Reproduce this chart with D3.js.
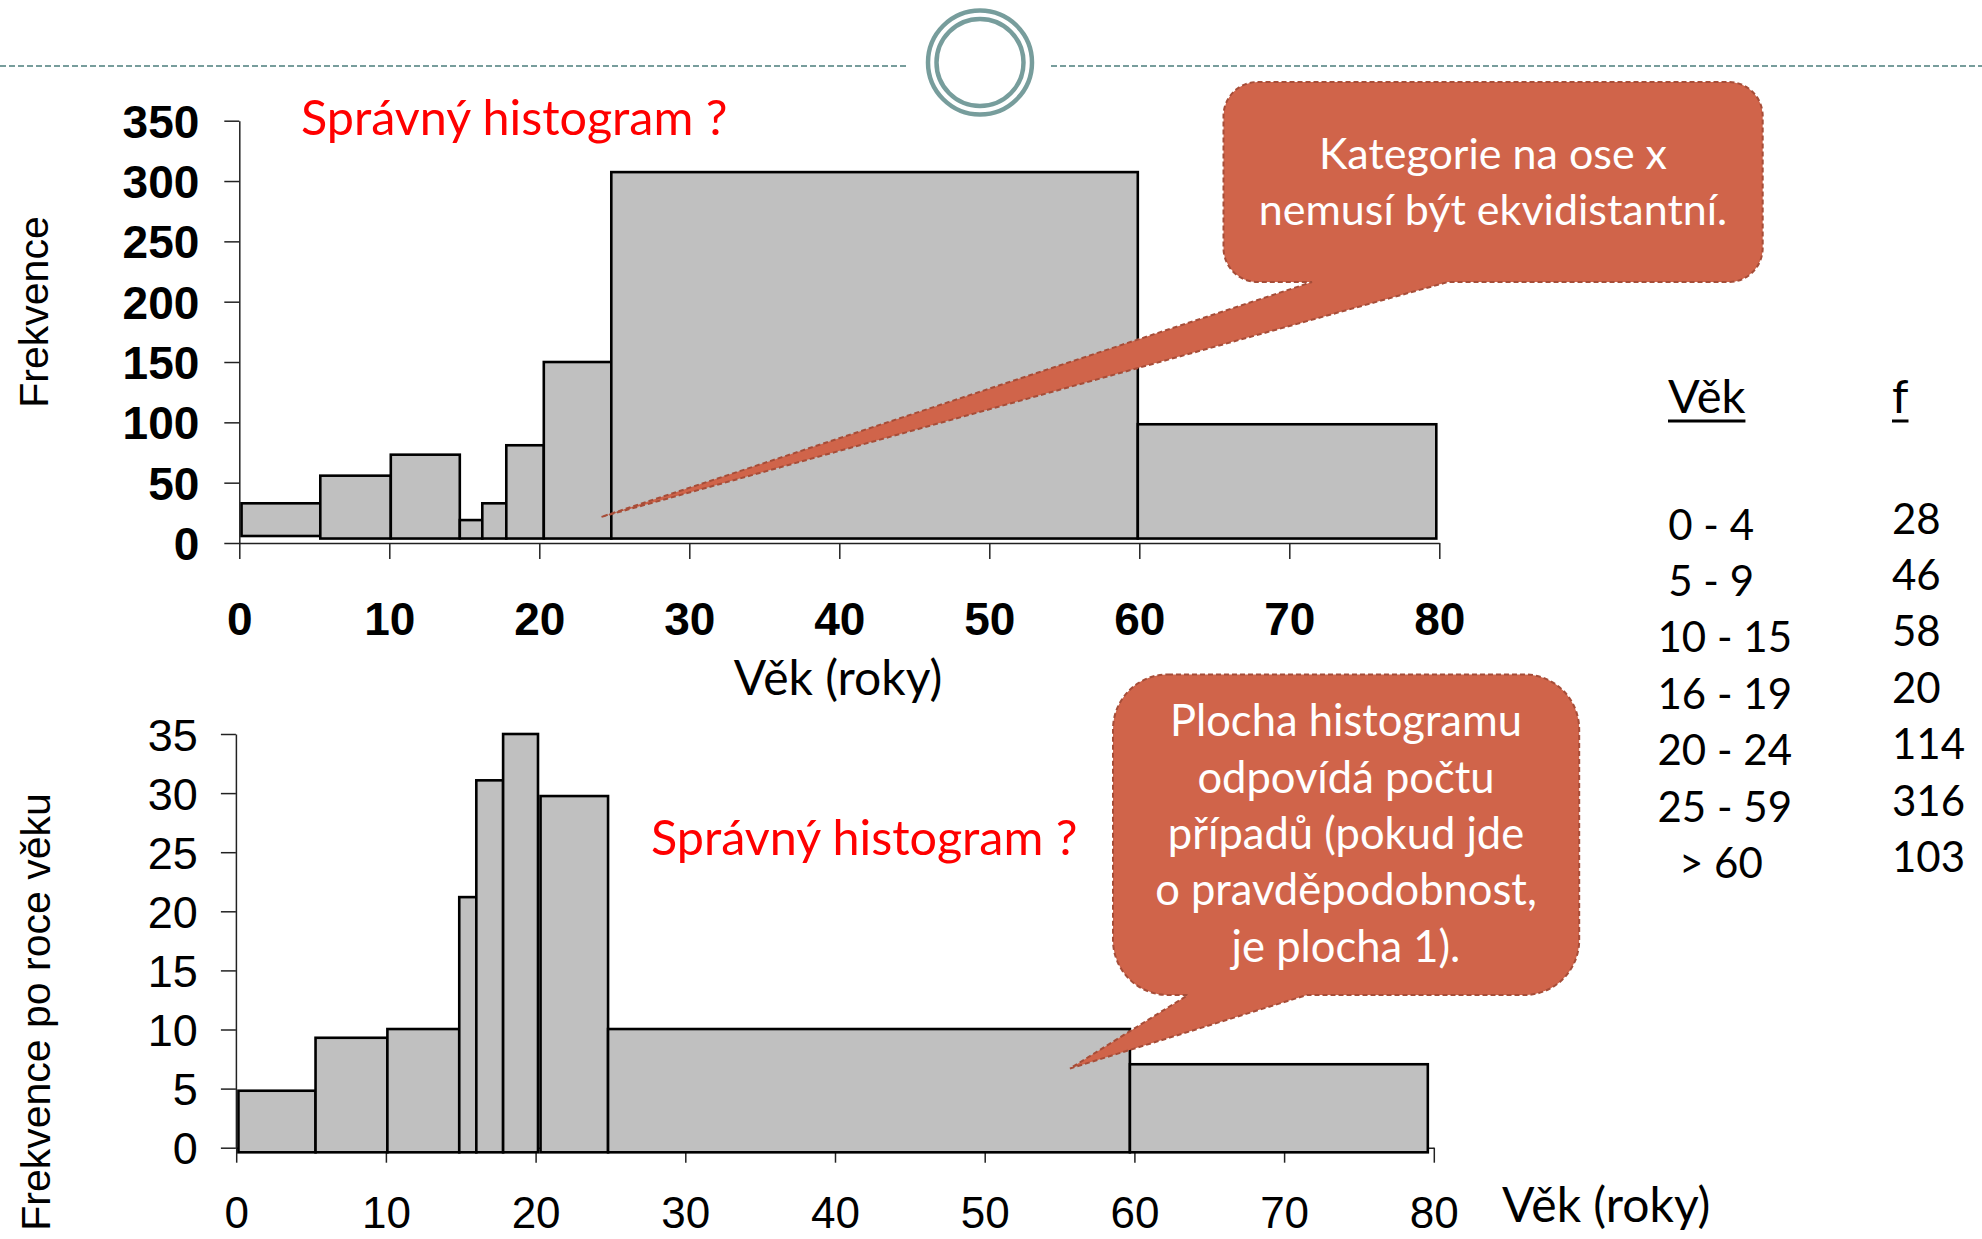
<!DOCTYPE html>
<html>
<head>
<meta charset="utf-8">
<script src="https://cdnjs.cloudflare.com/ajax/libs/d3/7.8.5/d3.min.js"></script>
<style>
  body { margin: 0; background: #fff; }
  svg { display: block; }
  .axis path, .axis line { stroke: #222; stroke-width: 1.5; }
  .axis text { fill: #000; font-family: 'Liberation Sans', Arial, sans-serif; }
  .cal { font-family: Lato, 'Open Sans', sans-serif; }
</style>
</head>
<body>
<svg></svg>
<script>
const width = 1982;
const height = 1239;
const svg = d3.select('svg').attr('width', width).attr('height', height);

//Data
const xTicks = [0, 10, 20, 30, 40, 50, 60, 70, 80];
const topYTicks = [0, 50, 100, 150, 200, 250, 300, 350];
const botYTicks = [0, 5, 10, 15, 20, 25, 30, 35];

// upper histogram (counts per class, drawn with unequal widths)
const topFrom = [0.15, 5.4, 10.1, 14.7, 16.2, 17.8, 20.3, 24.8, 59.9];
const topTo   = [5.4, 10.1, 14.7, 16.2, 17.8, 20.3, 24.8, 59.9, 79.8];
const topFreq = [32.9, 55.8, 73.2, 19, 32.9, 81, 150, 307.4, 98.4];
const topBase = [5.8, 3.7, 3.7, 3.7, 3.7, 3.7, 3.7, 3.7, 3.7];

// lower histogram (frequency per year of age)
const botFrom = [0.15, 5.3, 10.1, 14.9, 16.04, 17.83, 20.33, 24.84, 59.7];
const botTo   = [5.3, 10.1, 14.9, 16.04, 17.83, 20.16, 24.84, 59.7, 79.6];
const botFreq = [4.82, 9.3, 10.04, 21.2, 31.08, 35.0, 29.75, 10.04, 7.06];
const botBase = -0.39;

// table on the right
const tableAge = [' 0 - 4', ' 5 - 9', '10 - 15', '16 - 19', '20 - 24', '25 - 59', '  > 60'];
const tableFreq = [28, 46, 58, 20, 114, 316, 103];

const note1 = ['Kategorie na ose x', 'nemusí být ekvidistantní.'];
const note2 = ['Plocha histogramu', 'odpovídá počtu', 'případů (pokud jde', 'o pravděpodobnost,', 'je plocha 1).'];
const question = 'Správný histogram ?';

const teal = '#779d9c';
const coral = '#d0644a';
const coralLine = '#a64d38';

//Header decoration
svg.append('line').attr('x1', 0).attr('x2', 909).attr('y1', 66).attr('y2', 66)
   .attr('stroke', teal).attr('stroke-width', 2).attr('stroke-dasharray', '6,3');
svg.append('line').attr('x1', 1051).attr('x2', width).attr('y1', 66).attr('y2', 66)
   .attr('stroke', teal).attr('stroke-width', 2).attr('stroke-dasharray', '6,3');
[52, 43.5].forEach(r => {
    svg.append('circle').attr('cx', 980).attr('cy', 62.5).attr('r', r)
       .attr('fill', 'none').attr('stroke', teal).attr('stroke-width', 4.5);
});

//Setting up scales
var xTop = d3.scaleLinear().domain([0, 80]).range([239.3, 1439.3]);
var yTop = d3.scaleLinear().domain([0, 350]).range([543, 120.7]);
var xBot = d3.scaleLinear().domain([0, 80]).range([236.2, 1433.8]);
var yBot = d3.scaleLinear().domain([0, 35]).range([1147.7, 734]);

//Axes - upper chart
var gx1 = svg.append('g').attr('class', 'axis')
   .attr('transform', `translate(0, ${yTop(0)})`)
   .call(d3.axisBottom(xTop).tickValues(xTicks).tickSize(16).tickSizeOuter(0));
gx1.selectAll('text').attr('y', 92).attr('dy', 0)
   .style('font-size', '46px').style('font-weight', 'bold');

var gy1 = svg.append('g').attr('class', 'axis')
   .attr('transform', `translate(${xTop(0)}, 0)`)
   .call(d3.axisLeft(yTop).tickValues(topYTicks).tickSize(15).tickPadding(25).tickSizeOuter(0));
gy1.selectAll('text').attr('dy', '0.36em')
   .style('font-size', '46px').style('font-weight', 'bold');

//Axes - lower chart
var gx2 = svg.append('g').attr('class', 'axis')
   .attr('transform', `translate(0, ${yBot(0)})`)
   .call(d3.axisBottom(xBot).tickValues(xTicks).tickSize(15).tickSizeOuter(0));
gx2.selectAll('text').attr('y', 80).attr('dy', 0).style('font-size', '44px');

var gy2 = svg.append('g').attr('class', 'axis')
   .attr('transform', `translate(${xBot(0) - 0.3}, 0)`)
   .call(d3.axisLeft(yBot).tickValues(botYTicks).tickSize(15).tickPadding(23).tickSizeOuter(0));
gy2.selectAll('text').attr('dy', '0.36em').style('font-size', '45px');

//Bars
const topBars = topFrom.map((f, i) => ({from: f, to: topTo[i], freq: topFreq[i], base: topBase[i]}));
const botBars = botFrom.map((f, i) => ({from: f, to: botTo[i], freq: botFreq[i], base: botBase}));

svg.append('g').selectAll('rect')
   .data(topBars)
   .enter()
   .append('rect')
      .attr('x', d => xTop(d.from))
      .attr('width', d => xTop(d.to) - xTop(d.from))
      .attr('y', d => yTop(d.freq))
      .attr('height', d => yTop(d.base) - yTop(d.freq))
      .attr('fill', '#c0c0c0')
      .attr('stroke', '#000')
      .attr('stroke-width', 2.6);

svg.append('g').selectAll('rect')
   .data(botBars)
   .enter()
   .append('rect')
      .attr('x', d => xBot(d.from))
      .attr('width', d => xBot(d.to) - xBot(d.from))
      .attr('y', d => yBot(d.freq))
      .attr('height', d => yBot(d.base) - yBot(d.freq))
      .attr('fill', '#c0c0c0')
      .attr('stroke', '#000')
      .attr('stroke-width', 2.6);

//Titles and axis labels
svg.append('text').attr('class', 'cal').attr('x', 301).attr('y', 135)
   .style('font-size', '48.5px').attr('fill', '#ff0000').text(question);
svg.append('text').attr('class', 'cal').attr('x', 651).attr('y', 855)
   .style('font-size', '48.5px').attr('fill', '#ff0000').text(question);

svg.append('text').attr('class', 'cal').attr('x', 838).attr('y', 695)
   .style('text-anchor', 'middle').style('font-size', '48px').text('Věk (roky)');
svg.append('text').attr('class', 'cal').attr('x', 1502).attr('y', 1222)
   .style('font-size', '48px').text('Věk (roky)');

svg.append('text').attr('transform', 'translate(48, 312) rotate(-90)')
   .style('text-anchor', 'middle').style('font-family', "'Liberation Sans', Arial, sans-serif")
   .style('font-size', '41px').text('Frekvence');
svg.append('text').attr('transform', 'translate(50, 1012) rotate(-90)')
   .style('text-anchor', 'middle').style('font-family', "'Liberation Sans', Arial, sans-serif")
   .style('font-size', '41px').text('Frekvence po roce věku');

//Callouts
function callout(x0, y0, x1, y1, r, baseL, baseR, tip) {
    var p = d3.path();
    p.moveTo(x0 + r, y0);
    p.lineTo(x1 - r, y0);
    p.arcTo(x1, y0, x1, y0 + r, r);
    p.lineTo(x1, y1 - r);
    p.arcTo(x1, y1, x1 - r, y1, r);
    p.lineTo(baseR, y1);
    p.lineTo(tip[0], tip[1]);
    p.lineTo(baseL, y1);
    p.lineTo(x0 + r, y1);
    p.arcTo(x0, y1, x0, y1 - r, r);
    p.lineTo(x0, y0 + r);
    p.arcTo(x0, y0, x0 + r, y0, r);
    p.closePath();
    svg.append('path').attr('d', p.toString())
       .attr('fill', coral).attr('stroke', coralLine)
       .attr('stroke-width', 2).attr('stroke-dasharray', '5,3');
}

callout(1223.5, 82, 1762.7, 282, 34, 1312, 1448, [xTop(24.1), yTop(21.5)]);
callout(1113, 674.4, 1579.2, 995, 55, 1188, 1307, [xBot(55.7), yBot(6.7)]);

svg.append('g').selectAll('text')
   .data(note1)
   .enter()
   .append('text').attr('class', 'cal')
      .attr('x', 1493)
      .attr('y', (d, i) => 168.8 + i * 56.6)
      .style('text-anchor', 'middle').style('font-size', '43px')
      .attr('fill', '#fff')
      .text(d => d);

svg.append('g').selectAll('text')
   .data(note2)
   .enter()
   .append('text').attr('class', 'cal')
      .attr('x', 1346)
      .attr('y', (d, i) => 736.4 + i * 56.35)
      .style('text-anchor', 'middle').style('font-size', '43.5px')
      .attr('fill', '#fff')
      .text(d => d);

//Table
function underlined(x, y, label) {
    var t = svg.append('text').attr('class', 'cal').attr('x', x).attr('y', y)
       .style('font-size', '47px').text(label);
    var w = t.node().getComputedTextLength();
    svg.append('line').attr('x1', x).attr('x2', x + w).attr('y1', y + 8).attr('y2', y + 8)
       .attr('stroke', '#000').attr('stroke-width', 3);
}
underlined(1668, 413, 'Věk');
underlined(1892, 413, 'f');

svg.append('g').selectAll('text')
   .data(tableAge)
   .enter()
   .append('text').attr('class', 'cal')
      .attr('xml:space', 'preserve')
      .style('white-space', 'pre')
      .attr('x', 1657.5)
      .attr('y', (d, i) => 539.5 + i * 56.4)
      .style('font-size', '42px')
      .text(d => d);

svg.append('g').selectAll('text')
   .data(tableFreq)
   .enter()
   .append('text').attr('class', 'cal')
      .attr('x', 1892)
      .attr('y', (d, i) => 533.5 + i * 56.4)
      .style('font-size', '42px')
      .text(d => d);
</script>
</body>
</html>
